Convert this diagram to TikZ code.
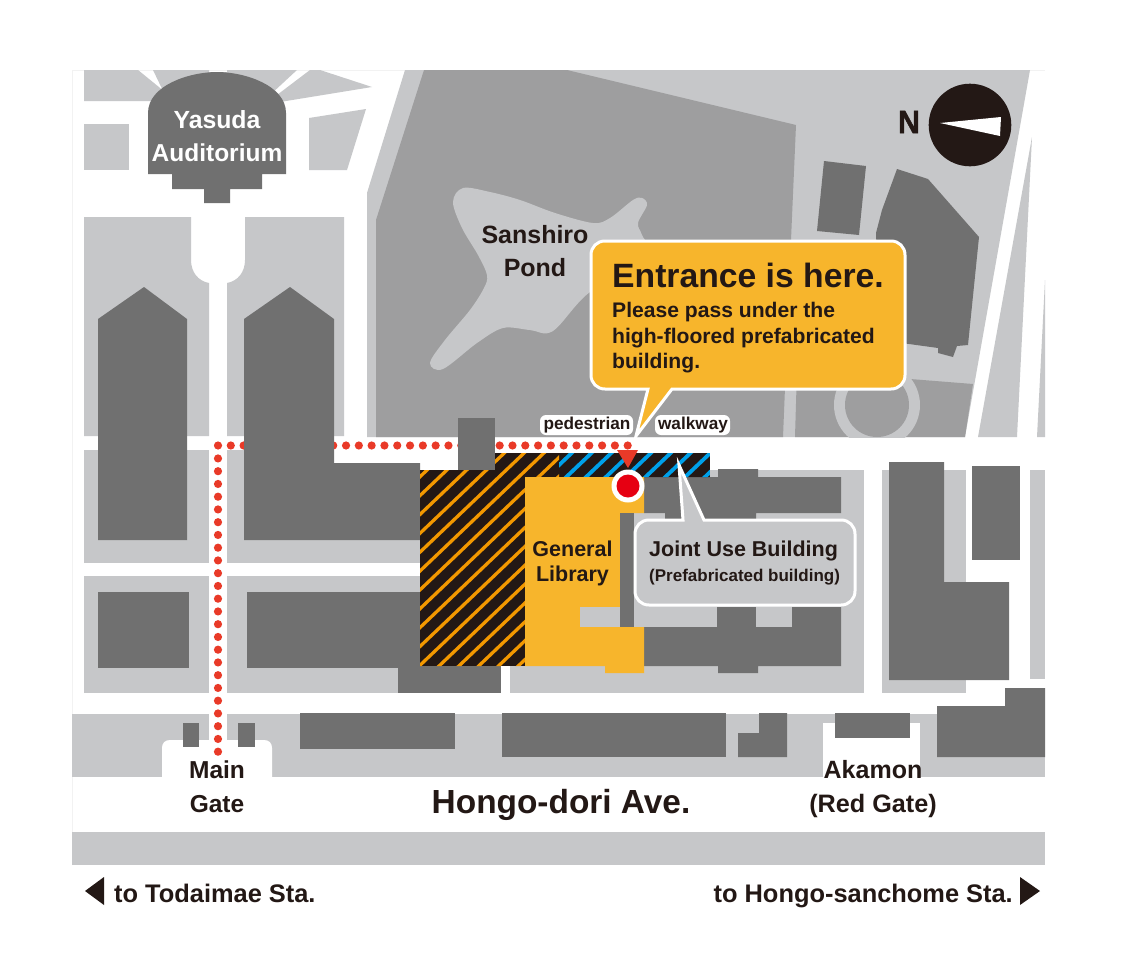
\documentclass[tikz,border=0pt]{standalone}
\usepackage{fontspec}
\setmainfont{Liberation Sans}[BoldFont={Liberation Sans Bold}]
\newfontfamily\northfont{Liberation Sans Bold}[FakeBold=1.6]
\definecolor{lgray}{HTML}{C6C7C9}
\definecolor{dgray}{HTML}{707070}
\definecolor{park}{HTML}{9E9E9F}
\definecolor{ink}{HTML}{231815}
\definecolor{routered}{HTML}{E93A28}
\definecolor{spotred}{HTML}{E60012}
\definecolor{libyellow}{HTML}{F7B52C}
\definecolor{hatchorange}{HTML}{F39800}
\definecolor{hatchblue}{HTML}{00A0E9}
\newcommand{\fs}[1]{\fontsize{#1}{#1}\selectfont\bfseries}
\tikzset{
  block/.style={fill=lgray},
  bldg/.style={fill=dgray},
  label/.style={inner sep=0pt,anchor=base,text=ink},
  labelw/.style={inner sep=0pt,anchor=base,text=white},
  labell/.style={inner sep=0pt,anchor=base west,text=ink},
  halo/.style={fill=white,rounded corners=6pt},
  dot/.style={fill=routered}
}
\begin{document}
\begin{tikzpicture}[x=1pt,y=-1pt]
\useasboundingbox (0,0) rectangle (1122,969);
\fill[white] (0,0) rectangle (1122,969);
% frame
\draw[color=black!5,line width=.6pt] (72,865) -- (72,70) -- (1045,70);
% top-left blocks
\fill[block] (84,70) -- (138,70) -- (165,92) -- (165,101) -- (84,101) -- cycle;
\fill[block] (153,70) -- (209,70) -- (209,72) -- (227,72) -- (227,70) -- (297,70) -- (270,95) -- (165,95) -- cycle;
\fill[block] (320,70) -- (372,87) -- (280,102) -- (277,95) -- (310,70) -- cycle;
\fill[block] (84,124) rectangle (129,170);
\fill[block] (309,118) -- (366,109) -- (347,170) -- (309,170) -- cycle;
\fill[block] (84,217) -- (191,217) -- (191,260) .. controls (191,272) and (198,281) .. (209,283) -- (209,436) -- (84,436) -- cycle;
\fill[block] (245,217) -- (344,217) -- (344,436) -- (227,436) -- (227,283) .. controls (238,281) and (245,272) .. (245,260) -- cycle;
% campus north-east
\fill[block] (405,70) -- (1030,70) -- (965,437) -- (367,437) -- (367,193) -- cycle;
\fill[block] (978,437) -- (1032,137) -- (1017,437) -- cycle;
\fill[block] (1037,437) -- (1045,280) -- (1045,437) -- cycle;
% park
\fill[park] (424,70) -- (567,70) -- (796,125) -- (791,240) -- (783,437) -- (376,437) -- (376,220) -- cycle;
\fill[park] (797,370) -- (973,384) -- (965,437) -- (795,437) -- cycle;
\begin{scope}
\clip (780,300) rectangle (1000,437);
\fill[block] (877,405) circle (43);
\fill[park] (877,405) circle (32);
\end{scope}
% pond
\fill[block] plot[smooth cycle,tension=.55] coordinates {
(453,202) (463,188) (490,192) (520,200) (555,213) (593,223) (610,218) (633,200) (642,198) (647,205) (638,223) (642,235) (650,260) (590,292) (553,331) (530,330) (503,328) (477,343) (443,369) (430,363) (445,340) (470,310) (484,288) (487,275) (478,255) (462,228)};
% blocks south of walkway
\fill[block] (84,450) rectangle (209,563);
\fill[block] (84,576) rectangle (209,693);
\fill[block] (227,450) rectangle (334,563);
\fill[block] (334,540) rectangle (420,563);
\fill[block] (227,576) rectangle (420,693);
\fill[block] (510,470) rectangle (864,693);
\fill[block] (882,470) rectangle (966,693);
\fill[block] (1030,470) rectangle (1045,679);
% south band
\fill[block] (72,714) rectangle (1045,777);
\fill[block] (72,832) rectangle (1045,865);
\fill[white] (162,777) -- (162,748) .. controls (162,743) and (165,740) .. (170,740) -- (264,740) .. controls (269,740) and (272,743) .. (272,748) -- (272,777) -- cycle;
\fill[white] (209,714) rectangle (227,741);
\fill[white] (823,723) rectangle (920,777);
% route
\foreach \i in {0,...,32} \fill[dot] ({627.7-12.803*\i},445.5) circle (4.1);
\foreach \i in {1,...,24} \fill[dot] (218,{445.7+12.75*\i}) circle (4.1);
% buildings
\fill[bldg] (148,113) .. controls (148,85) and (190,72) .. (217,72) .. controls (244,72) and (286,85) .. (286,113) -- (286,174) -- (262,174) -- (262,189) -- (230,189) -- (230,203) -- (204,203) -- (204,189) -- (172,189) -- (172,174) -- (148,174) -- cycle;
\fill[bldg] (98,319) -- (144,287) -- (187,319) -- (187,540) -- (98,540) -- cycle;
\fill[bldg] (244,319) -- (290,287) -- (334,319) -- (334,463) -- (420,463) -- (420,540) -- (244,540) -- cycle;
\fill[bldg] (98,592) rectangle (189,668);
\fill[bldg] (247,592) rectangle (420,668);
\fill[bldg] (398,666) rectangle (501,693);
\fill[bldg] (183,723) rectangle (199,747);
\fill[bldg] (238,723) rectangle (255,747);
\fill[bldg] (300,713) rectangle (455,749);
\fill[bldg] (502,713) rectangle (726,757);
\fill[bldg] (759,713) -- (787,713) -- (787,757) -- (738,757) -- (738,733) -- (759,733) -- cycle;
\fill[bldg] (835,713) rectangle (910,738);
\fill[bldg] (937,706) -- (1005,706) -- (1005,688) -- (1045,688) -- (1045,757) -- (937,757) -- cycle;
\fill[bldg] (889,462) -- (944,462) -- (944,582) -- (1009,582) -- (1009,680) -- (889,680) -- cycle;
\fill[bldg] (972,466) rectangle (1020,560);
\fill[bldg] (824,161) -- (866,166) -- (859,235) -- (817,231) -- cycle;
\fill[bldg] (897,169) -- (928,179) -- (979,237) -- (968,345) -- (957,346) -- (953,357) -- (938,353) -- (938,348) -- (880,340) -- (876,233) -- (882,210) -- cycle;
\fill[bldg] (458,418) rectangle (495,470);
% joint-use wings
\fill[bldg] (644,477) -- (718,477) -- (718,469) -- (758,469) -- (758,477) -- (841,477) -- (841,513) -- (756,513) -- (756,520) -- (665,520) -- (665,513) -- (644,513) -- cycle;
\fill[bldg] (644,627) -- (717,627) -- (717,607) -- (756,607) -- (756,627) -- (792,627) -- (792,607) -- (841,607) -- (841,666) -- (758,666) -- (758,673) -- (718,673) -- (718,666) -- (644,666) -- cycle;
% hatched areas
\begin{scope}
\clip (420,470) -- (495,470) -- (495,453) -- (710,453) -- (710,477) -- (525,477) -- (525,666) -- (420,666) -- cycle;
\fill[ink] (420,453) rectangle (710,666);
\begin{scope}
\clip (420,453) rectangle (559,666);
\foreach \i in {-5,...,14} \draw[hatchorange,line width=3.3pt] ({525.3+19.8*\i},433) -- ++(-273,260);
\end{scope}
\begin{scope}
\clip (559,453) rectangle (710,477);
\foreach \i in {-1,...,8} \draw[hatchblue,line width=3.8pt] ({592.7+19.8*\i},433) -- ++(-63,60);
\end{scope}
\end{scope}
% general library
\fill[libyellow] (525,477) -- (644,477) -- (644,513) -- (620,513) -- (620,607) -- (580,607) -- (580,627) -- (644,627) -- (644,673) -- (605,673) -- (605,666) -- (525,666) -- cycle;
\fill[block] (634,607) rectangle (717,627);
\fill[block] (580,607) rectangle (620,627);
\fill[block] (756,607) rectangle (792,627);
\fill[bldg] (620,513) rectangle (634,627);
% entrance marker
\fill[routered] (617,450) -- (638,450) -- (628,468) -- cycle;
\fill[white] (628,486) circle (16.5);
\fill[spotred] (628,486) circle (11.5);
% callout: joint use
\draw[fill=lgray,draw=white,line width=3pt,line join=miter] (683,520) -- (679,465) -- (704,520) -- (841,520) .. controls (849,520) and (855,526) .. (855,534) -- (855,591) .. controls (855,599) and (849,605) .. (841,605) -- (649,605) .. controls (641,605) and (635,599) .. (635,591) -- (635,534) .. controls (635,526) and (641,520) .. (649,520) -- cycle;
% walkway labels
\fill[halo] (540,415) rectangle (633,435);
\fill[halo] (655,415) rectangle (730,435);
% callout: entrance
\draw[fill=libyellow,draw=white,line width=3pt,line join=miter] (648,389) -- (636,436) -- (672,389) -- (891,389) .. controls (899,389) and (905,383) .. (905,375) -- (905,255) .. controls (905,247) and (899,241) .. (891,241) -- (605,241) .. controls (597,241) and (591,247) .. (591,255) -- (591,375) .. controls (591,383) and (597,389) .. (605,389) -- cycle;
% compass
\fill[ink] (970,125) circle (41.3);
\fill[white] (940,123) -- (1001,117) -- (1000,136) -- cycle;
\node[label,xscale=.95] (north) at (909,133) {\fontsize{32}{32}\northfont N};
% text
\node[labelw] (yasuda) at (217,128) {\fs{24.8}Yasuda};
\node[labelw] (audit) at (217,161) {\fs{24.5}Auditorium};
\node[label] (sanshiro) at (535,243) {\fs{25}Sanshiro};
\node[label] (pond) at (535,276) {\fs{25}Pond};
\node[label] (ped) at (587,429) {\fs{17.2}pedestrian};
\node[label] (walk) at (693,429) {\fs{17.2}walkway};
\node[labell] (ent) at (612,287) {\fs{33.7}Entrance is here.};
\node[labell] (p1) at (612,317) {\fs{21.1}Please pass under the};
\node[labell] (p2) at (612,343) {\fs{21.1}high-floored prefabricated};
\node[labell] (p3) at (612,368) {\fs{21.1}building.};
\node[label] (gen) at (572.5,556) {\fs{21.5}General};
\node[label] (lib) at (572.5,581) {\fs{21.5}Library};
\node[labell] (joint) at (649,556) {\fs{21.5}Joint Use Building};
\node[labell] (prefab) at (649,581) {\fs{17}(Prefabricated building)};
\node[label] (main) at (217,778) {\fs{24.5}Main};
\node[label] (gate) at (217,812.5) {\fs{24.5}Gate};
\node[label] (hongo) at (561,813) {\fs{33.4}Hongo-dori Ave.};
\node[label] (akamon) at (873,778) {\fs{25}Akamon};
\node[label] (redgate) at (873,812.5) {\fs{25.2}(Red Gate)};
\node[labell] (todai) at (114,902) {\fs{25.4}to Todaimae Sta.};
\node[inner sep=0pt,anchor=base east,text=ink] (hongosta) at (1013,902) {\fs{25.4}to Hongo-sanchome Sta.};
\fill[ink] (104,877) -- (85,891) -- (104,905) -- cycle;
\fill[ink] (1020,877) -- (1040,891) -- (1020,905) -- cycle;
\end{tikzpicture}
\end{document}
